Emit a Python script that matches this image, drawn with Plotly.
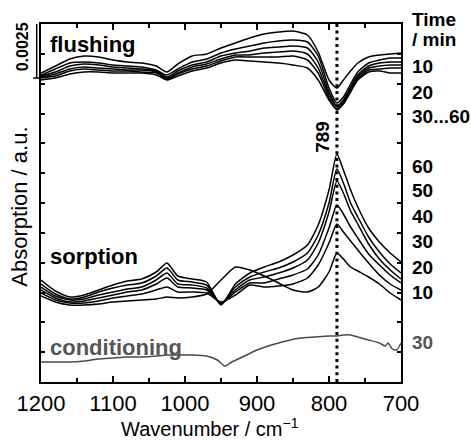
import plotly.graph_objects as go

# ---------------- data (absorption in arbitrary units, offset per stack) -------------
wavenumber = [1200, 1180, 1160, 1140, 1120, 1100, 1080, 1060, 1040, 1025, 1010, 990, 970, 950,
              930, 910, 890, 870, 850, 830, 815, 800, 789, 780, 770, 760, 745, 730, 715, 700]

flushing_10 = [309, 316, 323, 326, 325, 322, 320, 319, 316, 310, 318, 326, 328, 334, 339, 344, 348, 350, 351, 347, 330, 302, 294, 302, 311, 319, 325, 327, 328, 329]
flushing_20 = [307, 313, 319, 320, 319, 317, 316, 315, 312, 307, 313, 320, 323, 329, 333, 336, 339, 341, 342, 340, 326, 294, 279, 285, 298, 310, 319, 322, 324, 324]
flushing_30 = [306, 310, 316, 318, 317, 315, 314, 313, 311, 305, 311, 317, 320, 326, 329, 331, 334, 335, 336, 334, 320, 290, 276, 282, 295, 307, 316, 319, 320, 320]
flushing_40 = [305, 308, 313, 315, 314, 313, 312, 312, 310, 304, 309, 315, 318, 323, 327, 327, 329, 330, 331, 328, 314, 287, 275, 281, 293, 305, 314, 316, 317, 317]
flushing_50 = [304, 306, 311, 313, 312, 311, 311, 310, 309, 303, 308, 313, 316, 321, 325, 325, 325, 325, 326, 322, 309, 284, 273, 279, 291, 303, 312, 313, 314, 314]
flushing_60 = [302, 304, 308, 310, 310, 309, 309, 309, 307, 302, 306, 311, 314, 319, 322, 321, 320, 319, 317, 314, 302, 282, 272, 278, 290, 302, 310, 311, 309, 309]

sorption_60 = [102, 91, 85, 87, 92, 97, 101, 103, 110, 119, 106, 103, 100, 77, 98, 109, 115, 120, 127, 137, 157, 192, 228, 212, 192, 175, 154, 140, 129, 120]
sorption_50 = [98, 88, 83, 85, 90, 94, 97, 99, 106, 114, 102, 100, 97, 78, 95, 105, 110, 114, 120, 129, 147, 179, 213, 199, 179, 165, 145, 130, 118, 109]
sorption_40 = [95, 86, 82, 83, 87, 90, 93, 95, 102, 109, 98, 97, 94, 78, 92, 102, 105, 109, 114, 122, 139, 170, 201, 189, 171, 158, 138, 123, 112, 103]
sorption_30 = [92, 84, 80, 81, 84, 87, 90, 92, 98, 104, 95, 94, 92, 79, 90, 99, 99, 103, 107, 113, 127, 154, 177, 168, 155, 144, 128, 117, 107, 99]
sorption_20 = [89, 82, 79, 79, 81, 84, 86, 88, 92, 95, 90, 90, 89, 80, 87, 97, 95, 96, 98, 104, 117, 139, 158, 150, 141, 132, 119, 107, 98, 92]
sorption_10 = [86, 80, 77, 77, 78, 80, 81, 82, 83, 85, 84, 85, 88, 102, 115, 112, 106, 99, 92, 90, 95, 110, 129, 123, 115, 111, 105, 98, 89, 82]

wavenumber_cond = [1200, 1180, 1160, 1140, 1120, 1100, 1080, 1060, 1040, 1025, 1010, 990, 970, 955, 945,
                   935, 920, 900, 880, 860, 840, 820, 800, 789, 780, 770, 760, 745, 730, 722, 718, 712, 706, 700]
conditioning_30 = [20, 20, 20, 21, 23, 24, 25, 25, 26, 27, 27, 27, 26, 22, 16, 20, 25, 32, 37, 41, 44, 45, 46, 46,
                   47, 47, 45, 42, 39, 36, 39, 33, 32, 39]

flushing_series = [flushing_10, flushing_20, flushing_30, flushing_40, flushing_50, flushing_60]
sorption_series = [sorption_10, sorption_20, sorption_30, sorption_40, sorption_50, sorption_60]

right_labels = ["Time", "/ min", "10", "20", "30...60", "60", "50", "40", "30", "20", "10", "30"]
right_label_level = [362, 342, 316, 290, 265, 216, 192, 166, 141, 115, 90, 40]

band_position = 789
scale_bar_bottom, scale_bar_top = 304, 359
y_max = 358

FONT = "Liberation Sans, Arial, sans-serif"

fig = go.Figure()
for s in flushing_series + sorption_series:
    fig.add_trace(go.Scatter(x=wavenumber, y=s, mode="lines",
                             line=dict(color="black", width=1.5, shape="spline", smoothing=0.6),
                             showlegend=False, hoverinfo="skip"))
fig.add_trace(go.Scatter(x=wavenumber_cond, y=conditioning_30, mode="lines",
                         line=dict(color="#4a4a4a", width=1.5, shape="spline", smoothing=0.5),
                         showlegend=False, hoverinfo="skip"))
# dotted band marker
fig.add_trace(go.Scatter(x=[band_position, band_position], y=[0, y_max], mode="lines",
                         line=dict(color="black", width=3, dash="3px,3.7px"),
                         showlegend=False, hoverinfo="skip"))

annotations = []
def ann(text, x, y, xref="paper", yref="paper", size=19, color="black", bold=True, **kw):
    t = f"<b>{text}</b>" if bold else text
    annotations.append(dict(text=t, x=x, y=y, xref=xref, yref=yref, showarrow=False,
                            font=dict(family=FONT, size=size, color=color), **kw))

ann("flushing", 0.019, 338 / y_max, size=22, xanchor="left", yanchor="middle")
ann("sorption", 0.019, 126 / y_max, size=22, xanchor="left", yanchor="middle")
ann("conditioning", 0.019, 35 / y_max, size=22, color="#555555", xanchor="left", yanchor="middle")

for i, (txt, lv) in enumerate(zip(right_labels, right_label_level)):
    cc = "#555555" if i == len(right_labels) - 1 else "black"
    ann(txt, 1.025, lv / y_max, size=19, color=cc, xanchor="left", yanchor="middle")

ann(str(band_position), 810, 245 / y_max, xref="x", size=19, textangle=-90, xanchor="center", yanchor="middle")
ann("0.0025", -0.052, 335 / y_max, size=16, textangle=-90, xanchor="center", yanchor="middle")
ann("Absorption / a.u.", -0.062, 175 / y_max, size=22, bold=False, textangle=-90,
    xanchor="center", yanchor="middle")
ann("Wavenumber / cm<sup>\u22121</sup>", 0.47, -0.127, size=20, bold=False,
    xanchor="center", yanchor="middle")

shapes = [
    dict(type="line", xref="paper", yref="y", x0=-0.012, x1=-0.012, y0=scale_bar_bottom, y1=scale_bar_top,
         line=dict(color="black", width=1.5)),
    dict(type="line", xref="paper", yref="y", x0=-0.022, x1=0.0, y0=scale_bar_bottom, y1=scale_bar_bottom,
         line=dict(color="black", width=1.5)),
    dict(type="line", xref="paper", yref="y", x0=-0.022, x1=0.0, y0=scale_bar_top, y1=scale_bar_top,
         line=dict(color="black", width=1.5)),
]

fig.update_layout(
    width=471, height=441,
    margin=dict(l=41, r=70, t=24, b=59),
    paper_bgcolor="white", plot_bgcolor="white",
    font=dict(family=FONT, size=22, color="black"),
    annotations=annotations, shapes=shapes,
    xaxis=dict(range=[1200, 700], tickvals=[1200, 1100, 1000, 900, 800, 700],
               ticks="inside", ticklen=6, tickwidth=1.5, tickcolor="black",
               minor=dict(dtick=50, tick0=0, ticks="inside", ticklen=4, tickwidth=1.5, tickcolor="black"),
               showline=True, linecolor="black", linewidth=1.5, mirror="ticks",
               showgrid=False, zeroline=False, tickfont=dict(size=22), ticklabelstandoff=1),
    yaxis=dict(range=[0, y_max], tick0=0, dtick=y_max / 12, showticklabels=False,
               ticks="inside", ticklen=4, tickwidth=1.5, tickcolor="black",
               showline=True, linecolor="black", linewidth=1.5, mirror="ticks",
               showgrid=False, zeroline=False),
)

fig.write_html("out.html")
